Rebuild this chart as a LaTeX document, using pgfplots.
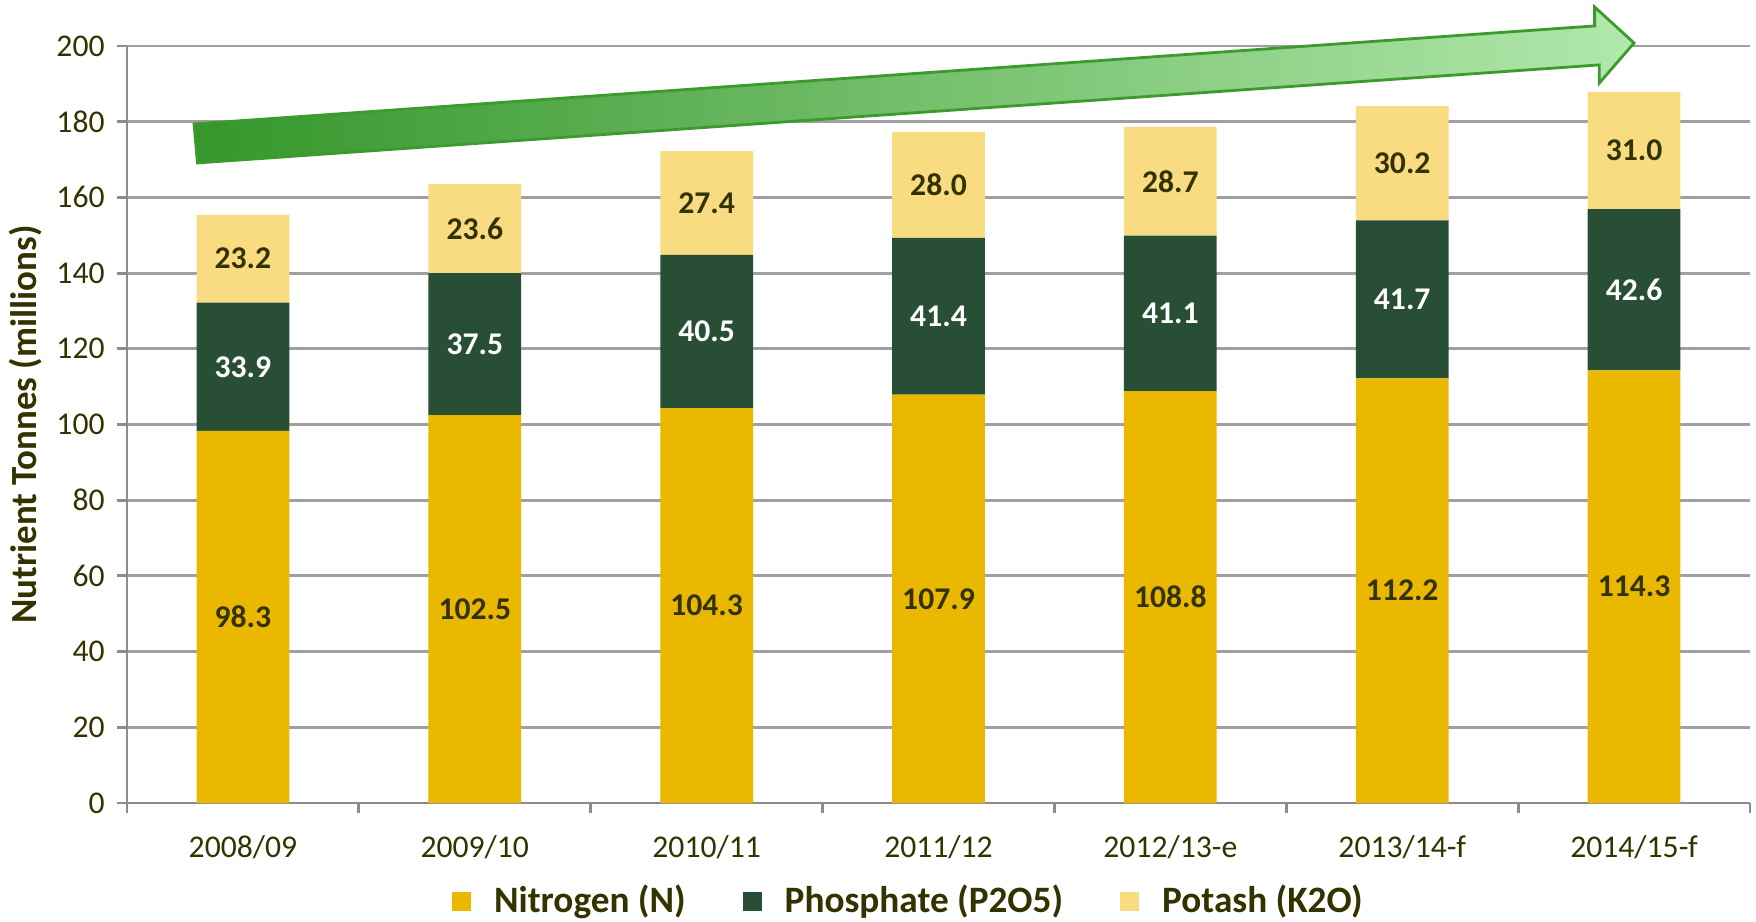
\documentclass[border=0pt]{standalone}
\usepackage{fontspec}
\setmainfont{Carlito}
\usepackage{pgfplots}
\pgfplotsset{compat=1.18}
\usepackage{pgfplotstable}

\definecolor{nitro}{HTML}{EAB800}
\definecolor{phos}{HTML}{284E36}
\definecolor{potash}{HTML}{F9DC82}
\definecolor{textolive}{HTML}{333300}
\definecolor{gridgray}{HTML}{A0A0A0}
\definecolor{axisgray}{HTML}{8C8C8C}
\definecolor{arrowdark}{HTML}{35962B}
\definecolor{arrowmid}{HTML}{7CC070}
\definecolor{arrowlight}{HTML}{B2E8AC}
\definecolor{arrowedge}{HTML}{3C9A2E}

% nutrient tonnes, millions
\pgfplotstableread{
x n p k
0 98.3 33.9 23.2
1 102.5 37.5 23.6
2 104.3 40.5 27.4
3 107.9 41.4 28.0
4 108.8 41.1 28.7
5 112.2 41.7 30.2
6 114.3 42.6 31.0
}\nutrients

\pgfplotsset{
  base/.style={width=16.23cm, height=7.57cm, scale only axis,
    xmin=-0.5, xmax=6.5, ymin=0, ymax=200},
}

\begin{document}
\begin{tikzpicture}
\begin{axis}[
    base,
    ybar stacked,
    bar width=0.4,
    axis lines*=left,
    axis line style={draw=axisgray, line width=0.8pt},
    tick align=outside,
    major tick length=0.1cm,
    tick style={draw=axisgray, line width=0.8pt},
    xtick={-0.5,0.5,1.5,2.5,3.5,4.5,5.5,6.5},
    x tick label as interval,
    xticklabels={2008/09,2009/10,2010/11,2011/12,2012/13-e,2013/14-f,2014/15-f},
    xticklabel style={font=\fontsize{9}{10}\selectfont, text=textolive, yshift=-0.1cm},
    ytick={0,20,...,200},
    ymajorgrids,
    major grid style={draw=gridgray, line width=0.8pt},
    yticklabel style={font=\fontsize{9}{10}\selectfont, text=textolive},
    /pgf/number format/assume math mode=true,
    ylabel={Nutrient Tonnes (millions)},
    every axis y label/.style={at={(axis description cs:-0.0622,0.5)}, rotate=90,
      anchor=center, font=\bfseries\fontsize{10.5}{12}\selectfont, text=textolive},
    legend columns=3,
    legend style={at={(0.483,-0.13)}, anchor=center, draw=none,
      font=\bfseries\fontsize{10.6}{12}\selectfont, text=textolive,
      /tikz/every even column/.append style={column sep=0.5cm}},
    legend image code/.code={\fill[#1] (0cm,-0.095cm) rectangle (0.19cm,0.095cm);
      \path (0.35cm,0cm);},
    clip=false,
]
\addplot[fill=nitro, draw=none] table[x=x, y=n] {\nutrients};
\addplot[fill=phos, draw=none] table[x=x, y=p] {\nutrients};
\addplot[fill=potash, draw=none] table[x=x, y=k] {\nutrients};
\legend{Nitrogen (N), Phosphate (P2O5), Potash (K2O)}

% corners of the growth arrow
\coordinate (a1) at (axis cs:-0.196,169.1);
\coordinate (a2) at (axis cs:-0.211,179.4);
\coordinate (a3) at (axis cs:5.83,205.3);
\coordinate (a4) at (axis cs:5.83,210.3);
\coordinate (a5) at (axis cs:6.0,200.8);
\coordinate (a6) at (axis cs:5.85,190.2);
\coordinate (a7) at (axis cs:5.85,195.0);
\end{axis}

% growth arrow
\fill[black, opacity=0.15, shift={(0.03cm,-0.05cm)}]
  (a1) -- (a2) -- (a3) -- (a4) -- (a5) -- (a6) -- (a7) -- cycle;
\shade[left color=arrowdark, middle color=arrowmid, right color=arrowlight]
  (a1) -- (a2) -- (a3) -- (a4) -- (a5) -- (a6) -- (a7) -- cycle;
\draw[arrowedge, line width=0.8pt]
  (a1) -- (a2) -- (a3) -- (a4) -- (a5) -- (a6) -- (a7) -- cycle;

\begin{axis}[
    base,
    hide axis,
    point meta=explicit,
    /pgf/number format/assume math mode=true,
    nodes near coords={\pgfmathprintnumber[fixed,fixed zerofill,precision=1]{\pgfplotspointmeta}},
    every node near coord/.append style={anchor=center, font=\bfseries\fontsize{9}{10}\selectfont},
]
\addplot[draw=none, nodes near coords style={text=textolive}]
  table[x=x, y expr=\thisrow{n}/2, meta=n] {\nutrients};
\addplot[draw=none, nodes near coords style={text=white}]
  table[x=x, y expr=\thisrow{n}+\thisrow{p}/2, meta=p] {\nutrients};
\addplot[draw=none, nodes near coords style={text=textolive}]
  table[x=x, y expr=\thisrow{n}+\thisrow{p}+\thisrow{k}/2, meta=k] {\nutrients};
\end{axis}

\pgfresetboundingbox
\path (0,0) ++(-1.27cm,-1.18cm) rectangle ++(17.56cm,9.21cm);
\end{tikzpicture}
\end{document}
